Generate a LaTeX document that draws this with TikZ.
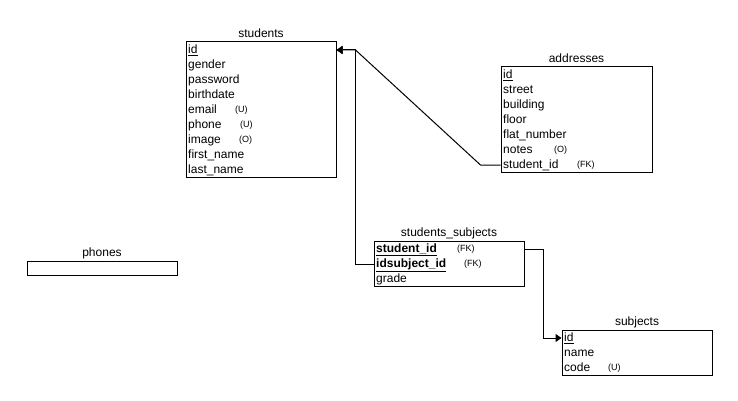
\documentclass[tikz,border=0pt]{standalone}
\usepackage{fontspec}
\setmainfont{Liberation Sans}
\usetikzlibrary{positioning,arrows.meta}

\begin{document}
\begin{tikzpicture}[
x=1pt, y=-1pt,
tbl/.style={draw, line width=1pt, minimum width=150pt, inner sep=0pt},
ttl/.style={inner sep=1pt, text height=9pt, text depth=2.5pt, font=\fontsize{12}{14}\selectfont},
row/.style={anchor=west, inner sep=0pt, text height=9pt, text depth=2.5pt, font=\fontsize{12}{14}\selectfont},
note/.style={anchor=west, inner sep=0pt, font=\fontsize{9}{10}\selectfont},
link/.style={line width=1pt, -{Triangle[length=6pt,width=8pt]}}
]
\useasboundingbox (0,0) rectangle (738,401);

% students
\node[tbl, minimum height=135pt] (students) at (261,109.5) {};
\node[ttl, above=0pt of students] (students-t) {students};
\foreach \f [count=\i] in {\underline{id},gender,password,birthdate,email,phone,image,first\_name,last\_name}
  \node[row] (st\i) at (188,35+15*\i) {\f};
\node[note] (st5-n) at (235,110) {(U)};
\node[note] (st6-n) at (240,125) {(U)};
\node[note] (st7-n) at (239,140) {(O)};

% addresses
\node[tbl, minimum width=151pt, minimum height=105pt] (addresses) at (576.5,119.5) {};
\node[ttl, above=0pt of addresses] (addresses-t) {addresses};
\foreach \f [count=\i] in {\underline{id},street,building,floor,flat\_number,notes,student\_id}
  \node[row] (ad\i) at (503,60+15*\i) {\f};
\node[note] (ad6-n) at (554,150) {(O)};
\node[note] (ad7-n) at (577,165) {(FK)};

% students_subjects
\node[tbl, minimum height=45pt] (sts) at (449,263.5) {};
\node[ttl, above=0pt of sts] (sts-t) {students\_subjects};
\foreach \f [count=\i] in {\textbf{\underline{student\_id}},\textbf{\underline{idsubject\_id}},grade}
  \node[row] (ss\i) at (376,234+15*\i) {\f};
\node[note] (ss1-n) at (457,249) {(FK)};
\node[note] (ss2-n) at (464,264) {(FK)};

% subjects
\node[tbl, minimum height=45pt] (subjects) at (637,352.5) {};
\node[ttl, above=0pt of subjects] (subjects-t) {subjects};
\foreach \f [count=\i] in {\underline{id},name,code}
  \node[row] (sb\i) at (564,323+15*\i) {\f};
\node[note] (sb3-n) at (608,368) {(U)};

% phones
\node[tbl, minimum height=14pt] (phones) at (102,268) {};
\node[ttl, above=0pt of phones] (phones-t) {phones};

% links
\path (students.east |- st1) ++(19,0) coordinate (join);
\draw[link] (addresses.west |- ad7) -- ++(-20,0) -- (join) -- (students.east |- st1);
\draw[link] (sts.west |- ss2) -- (join |- ss2) -- (join) -- (students.east |- st1);
\draw[link] (sts.east |- ss1) -- ++(19,0) |- (subjects.west |- sb1);
\end{tikzpicture}
\end{document}
